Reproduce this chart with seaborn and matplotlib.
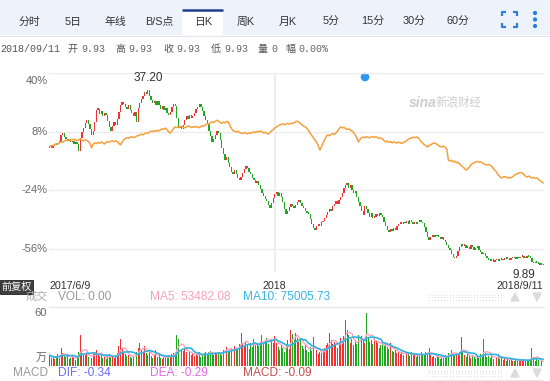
import numpy as np
import pandas as pd
import matplotlib
matplotlib.use("Agg")
import matplotlib.pyplot as plt
import matplotlib.transforms as mtransforms
from matplotlib.patches import Rectangle, Circle, Polygon
import seaborn as sns

sns.set_style("white")
plt.rcParams['font.family'] = ['Liberation Sans', 'Noto Sans CJK SC', 'DejaVu Sans']

# ---------------- data ----------------
base_close = 28.20          # first close, reference for percent axis
first_open = 27.90
peak_high = 37.20
low_low = 9.89
year_start_idx = 140        # first trading day of 2018
date_labels = ["2017/6/9", "2018", "2018/9/11"]
pct_ticks = [40, 8, -24, -56]

closes = [
    28.2, 28.0, 28.3, 28.5, 28.4, 28.7, 28.9, 29.9, 30.3, 29.6, 29.3,
    29.0, 29.4, 28.8, 29.1, 28.6, 28.9, 28.5, 27.5, 29.5, 30.4, 31.0,
    31.8, 32.3, 31.6, 30.8, 29.9, 30.5, 32.0, 33.8, 34.0, 33.2, 33.6, 32.9, 33.4,
    33.0, 32.1, 31.2, 30.6, 31.3, 32.0, 31.5, 32.4, 33.5, 34.6, 35.0,
    34.7, 34.2, 33.9, 34.5, 33.8, 33.3, 32.9, 33.5, 32.0, 34.1,
    34.8, 35.5, 35.9, 36.5, 36.3, 36.9, 36.0, 35.3, 34.9, 35.2, 34.5,
    35.1, 34.6, 34.0, 34.4, 33.8, 34.1, 33.4, 33.0, 33.5, 34.2, 34.7, 34.4,
    32.5, 31.0, 31.3, 30.9, 31.5, 32.2, 32.8, 32.4, 33.1, 32.6, 32.9, 33.3,
    33.9, 34.3, 34.7, 34.2, 33.6, 32.9, 32.3, 31.8, 30.6, 29.8, 28.9,
    29.4, 29.9, 30.5, 30.2, 29.2, 28.0, 27.0, 26.1, 26.6, 25.7, 25.0, 24.3, 24.0,
    24.6, 23.9, 23.4, 23.1, 23.5, 24.1, 24.7, 25.2, 24.8, 24.3,
    23.9, 23.4, 23.0, 22.6, 22.9, 22.2, 21.6, 21.0, 20.6, 20.1,
    19.8, 19.2, 18.8, 19.5, 20.3, 20.9, 21.2, 20.6, 21.0, 20.4,
    19.6, 18.6, 17.8, 18.3, 18.9, 19.4, 19.0, 18.7, 19.2, 19.7, 20.0, 19.5, 19.1,
    18.8, 18.3, 18.0, 17.8, 17.0, 16.3, 15.7, 15.4, 15.9, 16.3, 16.0, 16.5, 16.7,
    17.2, 17.6, 18.1, 18.6, 18.3, 19.0, 19.4, 19.8, 19.3, 19.9,
    20.4, 21.0, 21.8, 22.2, 22.5, 21.8, 22.3, 21.5, 21.0, 21.3, 20.4,
    19.6, 19.0, 18.2, 17.7, 19.0, 18.5, 18.0, 17.4, 17.9, 17.2,
    17.4, 17.8, 17.5, 17.9, 17.6, 17.3, 16.6, 16.0, 15.3, 15.0,
    15.5, 15.2, 15.7, 15.4, 15.9, 16.2, 16.5, 16.2, 16.6, 16.4,
    16.7, 16.3, 16.9, 16.5, 16.2, 16.5, 16.3, 16.6, 16.8, 16.6, 16.4,
    15.8, 15.0, 14.3, 13.8, 14.2, 14.5, 14.2, 14.6, 14.4,
    14.3, 14.0, 14.2, 13.8, 13.5, 13.0, 12.6, 12.2, 11.6, 11.2, 11.0, 11.4,
    12.1, 12.8, 13.2, 12.9, 13.1, 12.6, 12.8, 12.4, 13.0, 12.7, 12.3, 12.6, 12.9,
    12.2, 11.9, 11.6, 11.8, 11.3, 11.0, 10.7, 10.6, 10.9, 10.5, 10.7, 10.9, 10.6,
    10.8, 10.9, 10.7, 11.0, 10.9, 11.1, 10.8, 11.0, 11.2, 11.0, 10.9,
    11.1, 11.0, 11.2, 11.3, 11.1, 11.0, 11.3, 11.2, 11.1,
    10.4, 10.2, 10.5, 10.3, 10.1, 10.0, 9.95, 9.93,
]

index_pct = [
    0.0, 0.5, 0.3, 1.0, 1.4, 1.2, 2.0, 2.5, 2.2, 2.9,
    3.4, 3.1, 3.8, 3.3, 3.6, 4.0, 3.5, 3.2,
    3.6, 3.9, 3.4, 3.0, 3.5, 3.2, 2.6, 1.5, -0.8, 1.2,
    1.9, 1.5, 2.2, 1.7, 2.4, 2.0, 1.3, 2.1, 2.6, 2.3,
    2.8, 3.1, 2.6, 3.0, 2.5, 1.6, 0.8, 2.3, 3.6,
    4.2, 4.8, 4.4, 4.9, 5.3, 4.8, 5.0, 5.6, 5.9,
    6.2, 6.7, 6.3, 7.0, 7.4, 7.1,
    7.8, 8.3, 8.0, 8.6, 8.2, 8.8, 8.4, 9.1, 9.6, 9.3,
    10.0, 9.0, 7.8, 7.3, 8.5, 9.8,
    10.6, 10.2, 10.8, 10.4, 11.0, 10.5, 10.1, 10.6, 11.2, 10.8, 10.3, 10.7, 10.4, 10.9, 10.5, 10.2,
    10.8, 11.3, 11.0,
    11.8, 12.4, 12.1, 12.9, 13.4, 13.0, 13.7, 14.2, 13.8,
    13.0, 12.6, 13.2, 12.8, 13.6, 13.3,
    11.5, 9.8, 8.6, 8.2, 7.8, 8.3, 7.6,
    7.3, 7.0, 7.5, 7.2, 6.8, 7.4, 7.1,
    7.6, 8.0, 7.5, 8.2, 7.8, 8.4, 7.9, 7.4, 7.7, 7.0,
    6.8, 7.6, 8.5, 9.2, 10.0, 10.6, 11.2, 11.7,
    11.9, 12.3, 11.8, 12.2, 12.5, 12.1, 12.6, 12.4, 12.9, 13.4, 13.8, 13.2, 12.4,
    11.8, 11.0, 10.6, 9.8, 8.5,
    7.3, 6.0, 4.6, 3.4, 2.4, 0.4, -2.0, -0.3, 1.8, 3.6,
    5.4, 6.3, 5.8, 6.6, 7.0, 6.5, 7.3, 8.4, 9.6,
    10.6, 10.1, 10.4, 9.7, 9.2, 9.5,
    8.9, 8.4, 7.6, 6.2, 4.8, 2.4, 3.9, 4.6,
    5.1, 4.7, 5.3, 5.0, 4.6, 5.1, 5.4, 4.9, 5.2, 4.8, 4.4,
    4.6, 4.0, 3.2, 2.4, 2.9, 2.2, 2.6, 1.9, 2.4, 2.1,
    1.8, 2.3, 2.0, 1.6, 2.2, 2.5, 3.1, 3.8, 4.3,
    4.6, 5.0, 4.7, 5.1, 4.8, 3.9,
    2.6, 1.8, 0.9, 0.4, -0.3, 0.5, 0.8, 1.5, 1.8,
    1.6, 1.1, 0.4, -0.1, -0.3, 0.2, -0.4, -1.5,
    -7.4, -8.0, -7.6, -8.5, -8.1, -9.0, -8.6, -9.6, -10.4, -11.2, -12.0,
    -12.9, -12.4, -11.3, -10.1, -9.4, -8.9, -8.5,
    -8.2, -8.6, -8.4, -8.9, -9.5, -10.0,
    -10.1, -9.8, -10.3, -10.9, -12.2, -13.1,
    -14.0, -15.6, -16.4, -17.2, -16.8, -16.5,
    -16.7, -17.3, -16.9, -17.2, -16.6, -15.8, -15.2,
    -14.9, -14.5, -14.2, -14.5, -15.4, -16.3,
    -16.7, -16.2, -16.8, -17.3, -16.9, -17.4,
    -17.2, -18.0, -18.6, -19.3, -20.0,
]

volume = [  # 万
    12, 9, 11, 8, 10, 13, 9, 20, 14, 11,
    10, 12, 8, 9, 11, 10, 7, 9, 15, 34,
    16, 13, 12, 14, 10, 11, 9, 13, 15, 18,
    14, 11, 12, 9, 10, 8, 12, 13, 10, 11,
    9, 12, 14, 22, 30, 19, 15, 13, 11, 12,
    10, 9, 11, 14, 15, 20, 25, 18, 16, 22,
    14, 12, 16, 11, 9, 13, 18, 10, 12, 9,
    8, 11, 10, 9, 12, 10, 13, 14, 16, 34,
    30, 21, 19, 17, 20, 15, 13, 16, 12, 14,
    11, 13, 12, 15, 10, 12, 14, 16, 13, 15,
    17, 14, 12, 15, 13, 16, 14, 12, 18, 23,
    21, 15, 17, 20, 16, 22, 19, 18, 24, 37,
    26, 22, 28, 24, 19, 25, 21, 30, 23, 26,
    22, 27, 34, 25, 29, 31, 24, 37, 28, 26,
    33, 25, 21, 18, 24, 20, 15, 22, 29, 19,
    40, 35, 29, 37, 31, 27, 30, 22, 19, 23,
    18, 16, 21, 17, 32, 15, 18, 13, 16, 14,
    17, 20, 23, 26, 37, 29, 24, 27, 23, 20,
    25, 31, 28, 33, 51, 40, 34, 26, 30, 23,
    27, 24, 34, 30, 33, 28, 25, 59, 31, 27,
    29, 24, 32, 28, 26, 20, 23, 25, 22, 24,
    21, 19, 25, 17, 15, 18, 14, 16, 13, 15,
    12, 14, 16, 13, 11, 15, 12, 14, 10, 13,
    11, 15, 13, 12, 16, 14, 20, 12, 10, 11,
    9, 12, 10, 8, 11, 9, 12, 10, 14, 16,
    18, 13, 11, 14, 12, 15, 32, 16, 12, 10,
    13, 11, 9, 12, 10, 8, 11, 9, 13, 12,
    30, 14, 10, 11, 9, 12, 8, 10, 9, 11,
    8, 10, 7, 9, 6, 8, 7, 9, 6, 5,
    7, 6, 8, 5, 7, 6, 8, 5, 7, 6,
    20, 9, 6, 8, 7, 5, 6, 0,
]

tabs = ["分时", "5日", "年线", "B/S点", "日K", "周K", "月K", "5分", "15分", "30分", "60分"]
selected_tab = "日K"
info_date = "2018/09/11"
info_names = ["开", "高", "收", "低", "量", "幅"]
info_values = ["9.93", "9.93", "9.93", "9.93", "0", "0.00%"]
vol_header = ["VOL: 0.00", "MA5: 53482.08", "MA10: 75005.73"]
macd_header = ["DIF: -0.34", "DEA: -0.29", "MACD: -0.09"]

# ---------------- derived ----------------
n = len(closes)
idx = np.arange(n)
closes_a = np.array(closes)
opens_a = np.array([first_open] + closes[:-1])
up = closes_a >= opens_a
RED, GREEN = "#f03131", "#1fa71f"
cols = np.where(up, RED, GREEN)

W, H = 550, 381
fig = plt.figure(figsize=(W / 100, H / 100), dpi=100)


def frac(x0, y0, x1, y1):
    return [x0 / W, 1 - y1 / H, (x1 - x0) / W, (y1 - y0) / H]


# UI overlay (pixel coordinates)
ui = fig.add_axes([0, 0, 1, 1], zorder=0)
ui.set_xlim(0, W)
ui.set_ylim(H, 0)
ui.axis("off")

ui.add_patch(Rectangle((0, 0), W, 35, fc="#eef3fb", ec="none"))
ui.plot([0, W], [35.5, 35.5], color="#dfe6f1", lw=0.8)
tab_x = [29, 73, 115, 159, 203, 246, 288, 331, 373, 414, 458]
for t, x in zip(tabs, tab_x):
    if t == selected_tab:
        ui.add_patch(Rectangle((182, 9), 41, 27, fc="white", ec="none"))
        ui.plot([182, 223], [9.5, 9.5], color="#1c3d8e", lw=1.8, solid_capstyle="butt")
    ui.text(x, 22, t, ha="center", va="center", fontsize=7.8, color="#333333")
# fullscreen icon + menu dots
ic = "#2a7fe0"
for xs, ys in [([502, 502, 506], [16, 12, 12]), ([513, 517, 517], [12, 12, 16]),
               ([502, 502, 506], [23, 27, 27]), ([513, 517, 517], [27, 27, 23])]:
    ui.plot(xs, ys, color=ic, lw=1.6, solid_capstyle="butt")
for yy in [13, 19.5, 26]:
    ui.add_patch(Circle((535, yy), 1.4, color=ic))

# info line
mono = ["Liberation Mono", "Noto Sans CJK SC"]
ui.text(0, 49, info_date, ha="left", va="center", fontsize=7.2, color="#555555", family=mono)
for name, val, x in zip(info_names, info_values, [68, 115, 163, 211, 258, 285]):
    ui.text(x, 49, name, ha="left", va="center", fontsize=7.2, color="#555555", family=mono)
    ui.text(x + 13, 49, val, ha="left", va="center", fontsize=7.2, color="#666666", family=mono)

# watermark and dot
ui.text(409, 103, "sina", ha="left", va="center", fontsize=10, color="#cdcdcd",
        style="italic", weight="bold")
ui.text(436, 103, "新浪财经", ha="left", va="center", fontsize=8.3, color="#cdcdcd",
        style="italic")
ui.add_patch(Circle((365, 77), 3.6, color="#2f95f2"))

# 前复权 badge
ui.add_patch(Rectangle((0, 280), 33, 14, fc="#3f3f3f", ec="#222222", lw=0.6))
ui.text(16.5, 287, "前复权", ha="center", va="center", fontsize=7.3, color="white")

# volume header
ui.text(48, 297, "成交", ha="right", va="center", fontsize=8, color="#aaaaaa")
ui.text(58, 297, vol_header[0], ha="left", va="center", fontsize=8.6, color="#999999")
ui.text(150, 297, vol_header[1], ha="left", va="center", fontsize=8.6, color="#f5a3bb")
ui.text(243, 297, vol_header[2], ha="left", va="center", fontsize=8.6, color="#36b6e0")
# macd header
ui.text(48, 373, "MACD", ha="right", va="center", fontsize=8.6, color="#999999")
ui.text(58, 373, macd_header[0], ha="left", va="center", fontsize=8.6, color="#6b6bf7")
ui.text(150, 373, macd_header[1], ha="left", va="center", fontsize=8.6, color="#e468e4")
ui.text(243, 373, macd_header[2], ha="left", va="center", fontsize=8.6, color="#c64d4d")
ui.plot([50, 543], [379.5, 379.5], color="#e9e9e9", lw=0.9)

# right-side controls
for yc in [297, 373]:
    gx, gy = np.meshgrid(np.arange(429, 502, 3), [yc - 2.5, yc, yc + 2.5])
    ui.scatter(gx.ravel(), gy.ravel(), s=0.6, color="#d8d8d8", linewidths=0)
    ui.add_patch(Polygon([(511, yc + 4), (519, yc + 4), (515, yc - 4)], color="#dcdcdc"))
    ui.add_patch(Polygon([(533, yc - 4), (541, yc - 4), (537, yc + 4)], color="#dcdcdc"))

# ---------------- main price axes ----------------
ax = fig.add_axes(frac(49, 73, 544, 272), zorder=1)
ax.set_facecolor("none")
top_price = base_close * (1 + pct_ticks[0] / 100)
bottom_price = top_price - (272 - 73) * (base_close * 0.32 / 58.7)
ax.set_xlim(-0.5, n - 0.5)
ax.set_ylim(bottom_price, top_price)
for s in ax.spines.values():
    s.set_visible(False)

for p in pct_ticks:
    ax.axhline(base_close * (1 + p / 100), color="#ececec", lw=1.0, zorder=0)
ax.axvline(year_start_idx, color="#eeeeee", lw=1.6, zorder=0)

body_lo = np.minimum(opens_a, closes_a)
body_h = np.maximum(np.abs(closes_a - opens_a), 0.25)
ax.bar(idx, body_h, bottom=body_lo, width=0.8, color=cols, linewidth=0, zorder=2)

sns.lineplot(x=idx, y=base_close * (1 + np.array(index_pct) / 100), ax=ax,
             color="#f5a13c", linewidth=1.1, zorder=3)

ylab_tr = mtransforms.blended_transform_factory(ax.transAxes, ax.transData)
for p in pct_ticks:
    yv = base_close * (1 + p / 100)
    if p == pct_ticks[0]:
        tr = mtransforms.offset_copy(ylab_tr, fig=fig, x=-1, y=-3, units="dots")
        va = "top"
    else:
        tr = mtransforms.offset_copy(ylab_tr, fig=fig, x=-1, y=0, units="dots")
        va = "center"
    ax.text(0, yv, f"{p}%", transform=tr, ha="right", va=va, fontsize=8, color="#666666",
            clip_on=False)

imax = int(np.argmax(closes_a))
ax.annotate(f"{peak_high:.2f}", xy=(imax, peak_high), xytext=(0, 2.5), textcoords="offset points",
            ha="center", va="bottom", fontsize=8.5, color="#333333", annotation_clip=False)
imin = int(np.argmin(closes_a))
ax.annotate(f"{low_low:.2f}", xy=(imin, low_low), xytext=(-6, -2.5), textcoords="offset points",
            ha="right", va="top", fontsize=8.5, color="#333333", annotation_clip=False)

ax.set_yticks([])
ax.set_xticks([0, year_start_idx, n - 1])
ax.set_xticklabels(date_labels, fontsize=7.7, color="#333333")
ax.tick_params(axis="x", length=0, pad=6.5)
for lab, ha in zip(ax.get_xticklabels(), ["left", "center", "right"]):
    lab.set_ha(ha)
ax.set_xlabel("")
ax.set_ylabel("")

# ---------------- volume axes ----------------
axv = fig.add_axes(frac(49, 307, 544, 366), zorder=1)
axv.set_facecolor("none")
axv.set_xlim(-0.5, n - 0.5)
axv.set_ylim(0, 65.5)
for k, s in axv.spines.items():
    s.set_visible(k == "top")
axv.spines["top"].set_color("#e6e6e6")
axv.spines["top"].set_linewidth(0.9)
axv.bar(idx, volume, width=0.6, color=cols, linewidth=0, zorder=2)
vol_s = pd.Series(volume, dtype=float)
sns.lineplot(x=idx, y=vol_s.rolling(5, min_periods=1).mean().values, ax=axv,
             color="#f7a6bf", linewidth=1.0, zorder=3)
sns.lineplot(x=idx, y=vol_s.rolling(10, min_periods=1).mean().values, ax=axv,
             color="#2fb3e3", linewidth=1.2, zorder=4)
axv.set_xticks([])
axv.set_yticks([10, 60])
axv.set_yticklabels(["万", "60"], fontsize=8, color="#666666")
axv.tick_params(axis="y", length=0, pad=1.5)
axv.set_xlabel("")
axv.set_ylabel("")

fig.savefig("out.png", dpi=100)
